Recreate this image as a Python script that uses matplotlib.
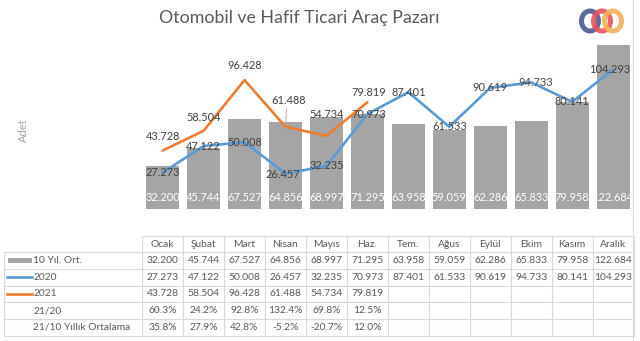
import matplotlib
matplotlib.use("Agg")
import matplotlib.pyplot as plt
from matplotlib import transforms
from matplotlib.patches import Ellipse, Rectangle
import numpy as np

plt.rcParams['font.family'] = ['Lato', 'DejaVu Sans']

# ---------------- data ----------------
months = ["Ocak", "Şubat", "Mart", "Nisan", "Mayıs", "Haz.", "Tem.", "Ağus",
          "Eylül", "Ekim", "Kasım", "Aralık"]
avg10 = [32200, 45744, 67527, 64856, 68997, 71295, 63958, 59059, 62286,
         65833, 79958, 122684]
y2020 = [27273, 47122, 50008, 26457, 32235, 70973, 87401, 61533, 90619,
         94733, 80141, 104293]
y2021 = [43728, 58504, 96428, 61488, 54734, 79819]
r2120 = [60.3, 24.2, 92.8, 132.4, 69.8, 12.5]
r2110 = [35.8, 27.9, 42.8, -5.2, -20.7, 12.0]
row_labels = ["10 Yıl. Ort.", "2020", "2021", "21/20", "21/10 Yıllık Ortalama"]
title = "Otomobil ve Hafif Ticari Araç Pazarı"
ylabel = "Adet"

# label offsets in pixels (dx, dy up)
off2020 = [(0, 0), (0, 0), (0, 0), (-3, -1), (0, 0), (1, 0), (0, 0), (0, 0),
           (0, 0), (5, 0), (0, 0), (-3, 0)]
off2021 = [(0, 14), (0, 13.5), (0, 15), (3, 26), (0, 21), (1, 9.5)]

C_BAR = '#a5a5a5'
C_2020 = '#5b9bd5'
C_2021 = '#ed7d31'
C_TXT = '#595959'
C_LBL = '#404040'
C_GRID = '#d9d9d9'

W, H = 640, 341
fig = plt.figure(figsize=(W / 100, H / 100), dpi=100)
fig.patch.set_facecolor('white')

# overlay in pixel coordinates
ov = fig.add_axes([0, 0, 1, 1])
ov.set_xlim(0, W)
ov.set_ylim(H, 0)
ov.axis('off')

x0, x1 = 142.2, 633.5
ybase, ytop = 209.0, 21.85
ax = fig.add_axes([x0 / W, (H - ybase) / H, (x1 - x0) / W, (ybase - ytop) / H])
ax.set_xlim(-0.5, len(months) - 0.5)
ax.set_ylim(0, 140000)
ax.axis('off')
ax.patch.set_alpha(0)

x = np.arange(len(months))
ax.bar(x, avg10, width=0.806, color=C_BAR, zorder=2)
ax.axhline(0, color=C_GRID, lw=0.9, zorder=1)
ax.plot(x, y2020, color=C_2020, lw=1.9, zorder=3, solid_capstyle='round')
ax.plot(x[:len(y2021)], y2021, color=C_2021, lw=1.9, zorder=4, solid_capstyle='round')

def fmt(v):
    return f"{v:,}".replace(",", ".")

px = 72 / 100.0
for i, v in enumerate(avg10):
    ax.annotate(fmt(v), (i, 0), xytext=(0, 11.5 * px), textcoords='offset points',
                ha='center', va='center', color='white', fontsize=7.9, zorder=5,
                annotation_clip=False)
for i, v in enumerate(y2020):
    dx, dy = off2020[i]
    ax.annotate(fmt(v), (i, v), xytext=(dx * px, dy * px), textcoords='offset points',
                ha='center', va='center', color=C_LBL, fontsize=7.9, zorder=6,
                annotation_clip=False)
for i, v in enumerate(y2021):
    dx, dy = off2021[i]
    ax.annotate(fmt(v), (i, v), xytext=(dx * px, dy * px), textcoords='offset points',
                ha='center', va='center', color=C_LBL, fontsize=7.9, zorder=6,
                annotation_clip=False)
# leader line for Nisan 2021 label
ax.annotate("", (3, y2021[3]), xytext=(1 * px, 18 * px), textcoords='offset points',
            arrowprops=dict(arrowstyle='-', color='#a6a6a6', lw=0.6,
                            shrinkA=0, shrinkB=3), annotation_clip=False)

# ---------------- title, y label, logo ----------------
ov.text(299, 17.5, title, ha='center', va='center', fontsize=12.8, color=C_TXT)
ov.text(23, 130, ylabel, rotation=90, ha='center', va='center', fontsize=8,
        color='#a6a6a6')
for cx, col in [(590, '#4b5b8f'), (602, '#e8525d'), (613, '#f6b15a')]:
    ov.add_patch(Ellipse((cx, 21), 17, 20, fill=False, edgecolor=col, lw=3.6,
                         alpha=0.9))

# ---------------- data table ----------------
tr = transforms.blended_transform_factory(ax.transData, ov.transData)
row_edges = [236.0, 252.3, 269.0, 285.7, 302.3, 319.0, 335.7]
lx0, lx1 = 4.0, 141.7
n = len(months)

lkw = dict(color=C_GRID, lw=0.8, clip_on=False)
# horizontal lines
ov.plot([lx1, x1 - 0.8], [row_edges[0]] * 2, **lkw)
for yy in row_edges[1:]:
    ov.plot([lx0, x1 - 0.8], [yy, yy], **lkw)
# vertical lines
ov.plot([lx0, lx0], [row_edges[1], row_edges[-1]], **lkw)
ov.plot([lx1, lx1], [row_edges[0], row_edges[-1]], **lkw)
for i in range(n):
    ax.plot([i + 0.5, i + 0.5], [row_edges[0], row_edges[-1]], transform=tr, **lkw)
# chart right border
ov.plot([632.7, 632.7], [0, H], **lkw)

tkw = dict(ha='center', va='center', fontsize=7.4, color=C_TXT, clip_on=False)
hy = (row_edges[0] + row_edges[1]) / 2
for i, m in enumerate(months):
    ax.text(i, hy, m, transform=tr, **tkw)

rows = [[fmt(v) for v in avg10],
        [fmt(v) for v in y2020],
        [fmt(v) for v in y2021],
        [f"{v:.1f}%" for v in r2120],
        [f"{v:.1f}%" for v in r2110]]
for r, vals in enumerate(rows):
    yc = (row_edges[r + 1] + row_edges[r + 2]) / 2
    for i, s in enumerate(vals):
        ax.text(i, yc, s, transform=tr, **tkw)
    ov.text(33.3, yc, row_labels[r], ha='left', va='center', fontsize=7.4,
            color=C_TXT)

# legend keys
yk = [(row_edges[1 + r] + row_edges[2 + r]) / 2 for r in range(3)]
ov.add_patch(Rectangle((8, yk[0] - 2.2), 23.7, 4.4, color=C_BAR, lw=0))
ov.plot([6.7, 31.7], [yk[1], yk[1]], color=C_2020, lw=1.9)
ov.plot([6.7, 31.7], [yk[2], yk[2]], color=C_2021, lw=1.9)

fig.savefig("out.png", dpi=100, facecolor='white')
